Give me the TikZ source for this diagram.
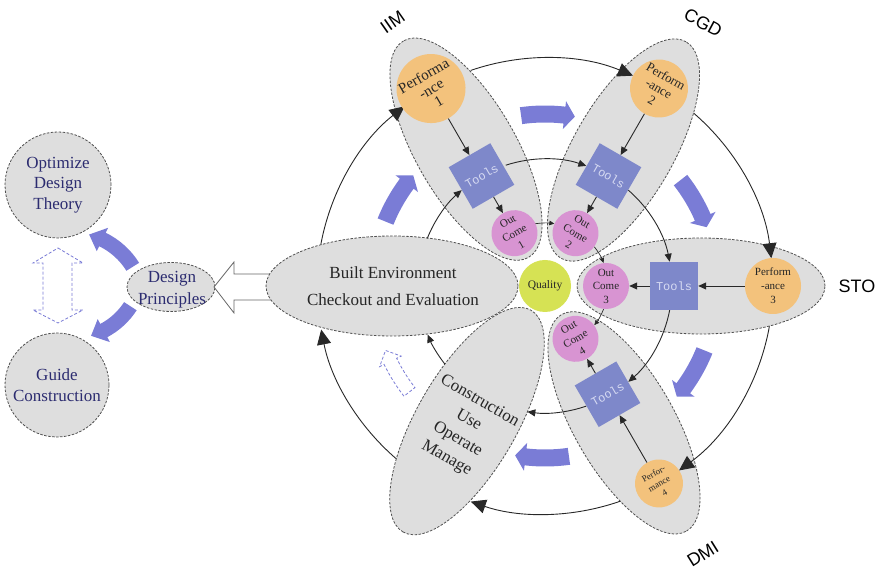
\documentclass[tikz,border=0pt]{standalone}
\usepackage{fontspec}
\setmainfont{Liberation Serif}
\newfontfamily\petalsans{Liberation Sans}
\newfontfamily\toolsmono{Liberation Mono}
\usetikzlibrary{arrows.meta,shapes.geometric}

\definecolor{petalgray}{RGB}{222,222,222}
\definecolor{rimgray}{RGB}{80,80,80}
\definecolor{perforange}{RGB}{243,194,124}
\definecolor{toolblue}{RGB}{126,136,202}
\definecolor{tooltext}{RGB}{214,218,242}
\definecolor{outpink}{RGB}{216,148,210}
\definecolor{qualgreen}{RGB}{214,226,84}
\definecolor{flowblue}{RGB}{122,124,214}
\definecolor{navytext}{RGB}{44,44,112}
\definecolor{linegray}{RGB}{40,40,40}

\tikzset{
  rim/.style={draw=rimgray, line width=0.8pt, dash pattern=on 2.5pt off 1.5pt},
  petalrim/.style={rim, ellipse, minimum height=100pt, inner sep=0pt},
  perfnode/.style={circle, fill=perforange, inner sep=0pt, align=center, text=black!85},
  toolnode/.style={rectangle, fill=toolblue, minimum size=48pt, inner sep=0pt,
    text=tooltext, font=\toolsmono\fontsize{12}{12}\selectfont},
  outnode/.style={circle, fill=outpink, minimum size=46pt, inner sep=0pt, align=center,
    text=black!85, font=\fontsize{11}{13.5}\selectfont},
  lefttext/.style={align=center, text=navytext, font=\fontsize{17}{20.5}\selectfont},
  phaselabel/.style={font=\petalsans\fontsize{18}{18}\selectfont, text=black},
  flowline/.style={draw=linegray, line width=0.9pt},
  bigtip/.style={flowline, -{Triangle[length=15pt,width=14pt]}},
  midtip/.style={flowline, -{Triangle[length=8pt,width=7pt]}},
  smalltip/.style={flowline, line width=0.7pt, -{Triangle[length=5pt,width=4.5pt]}},
  solidflow/.style={fill=flowblue},
  hollowflow/.style={draw=flowblue, fill=white, line width=0.8pt, dash pattern=on 3pt off 2pt}
}

% curved band arrow around the current origin:
% style, radius, tail angle, head-base angle, tip angle, band half-width, head half-width
\newcommand\curvedflow[7]{%
  \pgfmathsetmacro\cfo{#2+#6}\pgfmathsetmacro\cfi{#2-#6}%
  \pgfmathsetmacro\cfho{#2+#7}\pgfmathsetmacro\cfhi{#2-#7}%
  \path[#1] (#3:\cfo) arc[start angle=#3, end angle=#4, radius=\cfo]
    -- (#4:\cfho) -- (#5:#2) -- (#4:\cfhi) -- (#4:\cfi)
    arc[start angle=#4, end angle=#3, radius=\cfi] -- cycle;}

% arrow along a circle around the current origin: style, radius, start, end
\newcommand\ringarrow[4]{\draw[#1] (#3:#2) arc[start angle=#3, end angle=#4, radius=#2];}

\begin{document}
\begin{tikzpicture}[x=1pt,y=1pt]
\useasboundingbox (0,0) rectangle (880,572);

% ---------- left: principles and their two aims ----------
\node[rim, circle, fill=petalgray, minimum size=106pt, inner sep=0pt] (theory) at (58,387) {};
\node[lefttext] (theorytext) at (theory) {Optimize\\Design\\Theory};
\node[rim, circle, fill=petalgray, minimum size=104pt, inner sep=0pt] (guide) at (57,187) {};
\node[lefttext] (guidetext) at (guide) {Guide\\Construction};
\node[rim, ellipse, fill=petalgray, minimum width=88pt, minimum height=49pt, inner sep=0pt] (principles) at (171,285) {};
\node[lefttext, font=\fontsize{17}{22}\selectfont] (principlestext) at (172,282) {Design\\Principles};

% hollow double arrow between the two aims
\draw[hollowflow] (58,324) -- (83,309) -- (72,309) -- (72,262) -- (83,262) -- (58,249)
  -- (33,262) -- (43,262) -- (43,309) -- (33,309) -- cycle;

% curved arrows from the principles to each aim
\begin{scope}[shift={(70,266)}]
  \curvedflow{solidflow}{74}{32}{64}{75}{7.5}{13}
\end{scope}
\begin{scope}[shift={(70,305)}]
  \curvedflow{solidflow}{72}{-33}{-62}{-73}{7.5}{13}
\end{scope}

% open arrow from the evaluation petal to the principles
\draw[draw=black!60, fill=white, line width=0.8pt] (214,285) -- (234,310) -- (234,298)
  -- (278,298) -- (278,272) -- (234,272) -- (234,259) -- cycle;

% ---------- right: the six-petal cycle ----------
\begin{scope}[shift={(545,286)}]

% petal fills first, so that all dashed rims stay visible where petals overlap
\foreach \ang/\dist/\len/\half in {120/158/125/50, 60/157/125/50, 0/156/124/48,
                                  -60/158/125/50, 240/156/128/50, 180/153/126/50}
  \path[fill=petalgray, rotate=\ang] (\dist,0) ellipse[x radius=\len, y radius=\half];

\node[petalrim, minimum width=250pt, rotate=120] (iim) at (120:158) {};
\node[petalrim, minimum width=250pt, rotate=60] (cgd) at (60:157) {};
\node[petalrim, minimum width=248pt, minimum height=96pt, rotate=0] (sto) at (0:156) {};
\node[petalrim, minimum width=250pt, rotate=-60] (dmi) at (-60:158) {};
\node[petalrim, minimum width=256pt, rotate=240] (operate) at (240:156) {};
\node[petalrim, minimum width=252pt, rotate=0] (evaluate) at (180:153) {};

\node[align=center, text=black!85, font=\fontsize{17}{27}\selectfont] (evaltext) at (-152,0)
  {Built Environment\\Checkout and Evaluation};
\node[align=center, text=black!85, font=\fontsize{17}{22}\selectfont, rotate=-30] (usetext) at (-82,-144)
  {Construction\\Use\\Operate\\Manage};

% phase labels
\node[phaselabel, rotate=35] (lbliim) at (120:305) {IIM};
\node[phaselabel, rotate=-28] (lblcgd) at (59:307) {CGD};
\node[phaselabel] (lblsto) at (0:312) {STO};
\node[phaselabel, rotate=32] (lbldmi) at (-59.5:311) {DMI};

% broad flow arrows between petals
\foreach \c in {90, 30, -30, -90, 150}
  {\curvedflow{solidflow}{172}{\c+8}{\c-6.5}{\c-10}{8.5}{14}}
\curvedflow{hollowflow}{172}{-142}{-154}{-158}{7}{12}

% outer ring: performance to performance
\ringarrow{bigtip}{228}{109}{67.3}
\ringarrow{bigtip}{228}{49.3}{7}
\ringarrow{bigtip}{228}{-10.2}{-54}
\ringarrow{bigtip}{228}{-70.7}{-109}
\ringarrow{bigtip}{228}{229.3}{191}
\ringarrow{bigtip}{228}{169.5}{128}

% middle ring: tools to tools
\ringarrow{midtip}{127}{108}{71}
\ringarrow{midtip}{127}{49}{11}
\ringarrow{midtip}{127}{-11}{-49}
\ringarrow{midtip}{127}{-71}{-98}
\ringarrow{midtip}{127}{218}{202.5}
\ringarrow{midtip}{127}{158}{131}

% inner ring: outcome to outcome
\ringarrow{smalltip}{63}{99}{81.5}
\ringarrow{smalltip}{63}{38.5}{21.5}
\ringarrow{smalltip}{63}{-21.5}{-38.5}

% performance nodes
\node[perfnode, minimum size=64pt, rotate=30, font=\fontsize{15}{15}\selectfont] (perf1) at (120:228) {Performa\\-nce\\1};
\node[perfnode, minimum size=58pt, rotate=-30, font=\fontsize{13}{14}\selectfont] (perf2) at (60:228) {Perform\\-ance\\2};
\node[perfnode, minimum size=56pt, font=\fontsize{11}{14}\selectfont] (perf3) at (0:228) {Perform\\-ance\\3};
\node[perfnode, minimum size=48pt, rotate=30, font=\fontsize{9}{11}\selectfont] (perf4) at (-60:228) {Perfor-\\mance\\4};

% tools
\node[toolnode, rotate=30] (tools1) at (120:127) {Tools};
\node[toolnode, rotate=-30] (tools2) at (60:127) {Tools};
\node[toolnode] (tools3) at (0:129) {Tools};
\node[toolnode, rotate=30] (tools4) at (-60:125) {Tools};

% outcomes
\node[outnode, rotate=30] (out1) at (120:61) {Out\\Come\\1};
\node[outnode, rotate=-30] (out2) at (60:61) {Out\\Come\\2};
\node[outnode] (out3) at (0:61) {Out\\Come\\3};
\node[outnode, rotate=30] (out4) at (-60:61) {Out\\Come\\4};

\node[circle, fill=qualgreen, minimum size=52pt, inner sep=0pt, text=black!85,
      font=\fontsize{11.5}{12}\selectfont] (quality) at (0,0) {Quality};

% within each petal: performance -> tools -> outcome
\foreach \k in {1,2,3,4}{
  \draw[midtip] (perf\k) -- (tools\k);
  \draw[midtip] (tools\k) -- (out\k);
}
\end{scope}
\end{tikzpicture}
\end{document}
